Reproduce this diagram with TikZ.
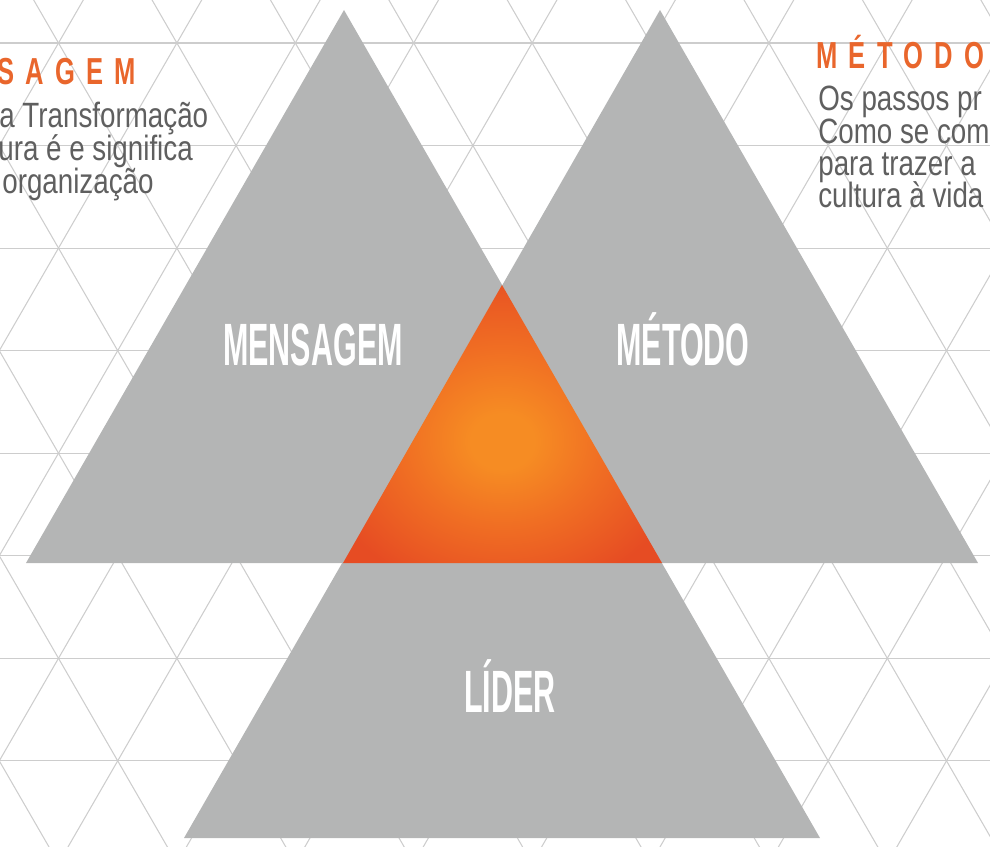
\documentclass[tikz,border=0pt]{standalone}
\usepackage{fontspec}
\usepackage{tikz}
\setmainfont{Liberation Sans}
\newfontfamily\labelfont[FakeStretch=0.51]{Liberation Sans Bold}
\newfontfamily\bodyfont[FakeStretch=0.79]{Liberation Sans}
\newfontfamily\headfont[FakeStretch=0.68,LetterSpace=30]{Liberation Sans Bold}
\definecolor{trigray}{RGB}{180,181,181}
\definecolor{gridgray}{RGB}{205,205,205}
\definecolor{headorange}{RGB}{233,102,44}
\definecolor{bodygray}{RGB}{95,95,95}
\definecolor{coreinner}{RGB}{246,140,35}
\definecolor{coremid}{RGB}{240,110,35}
\definecolor{coreouter}{RGB}{230,76,35}
\pgfdeclareradialshading{coreglow}{\pgfpoint{0bp}{-3.5bp}}{color(0bp)=(coreinner); color(5bp)=(coreinner); color(16bp)=(coremid); color(30bp)=(coreouter); color(50bp)=(coreouter)}

\begin{document}
\begin{tikzpicture}[x=0.02cm, y=-0.02cm,
  gridline/.style={draw=gridgray, line width=0.6pt},
  trifill/.style={fill=trigray},
  corefill/.style={shading=coreglow},
  biglabel/.style={text=white, font=\labelfont\fontsize{34}{34}\selectfont, anchor=base, inner sep=0pt},
  headtext/.style={text=headorange, font=\headfont\fontsize{21.4}{21.4}\selectfont, anchor=base west, inner sep=0pt},
  bodytext/.style={text=bodygray, font=\bodyfont\fontsize{20}{20}\selectfont, anchor=base west, inner sep=0pt}]
\useasboundingbox (0,0) rectangle (990,847);
\clip (0,0) rectangle (990,847);
\foreach \j in {0,...,8}
  \draw[gridline] (-10,43+102.55*\j) -- (1000,43+102.55*\j);
\foreach \k in {-10,...,14}
  {\draw[gridline] (58.5+118.4*\k-118.4,43-205.1) -- (58.5+118.4*\k+532.8,43+922.95);
   \draw[gridline] (58.5+118.4*\k+118.4,43-205.1) -- (58.5+118.4*\k-532.8,43+922.95);}

\coordinate (mA) at (344,10);
\coordinate (mL) at (26,563);
\coordinate (mR) at (662,563);
\coordinate (tA) at (660,10);
\coordinate (tL) at (343,563);
\coordinate (tR) at (978,563);
\coordinate (lA) at (502,285);
\coordinate (lL) at (184,838);
\coordinate (lR) at (820,838);
\fill[trifill] (mA) -- (mL) -- (mR) -- cycle;
\fill[trifill] (tA) -- (tL) -- (tR) -- cycle;
\fill[trifill] (lA) -- (lL) -- (lR) -- cycle;
\shade[corefill] (lA) -- (tL) -- (mR) -- cycle;

\node[biglabel] (mensagem) at (313,366) {MENSAGEM};
\node[biglabel] (metodo) at (683,366) {MÉTODO};
\node[biglabel] (lider) at (510,712) {LÍDER};

\node[headtext] (headmensagem) at (-3,85) {SAGEM};
\node[bodytext] (mensagem1) at (-1,128) {a Transformação};
\node[bodytext] (mensagem2) at (-2,161) {ura é e significa};
\node[bodytext] (mensagem3) at (2,194) {organização};

\node[headtext] (headmetodo) at (816,69) {MÉTODO};
\node[bodytext] (metodo1) at (818,111) {Os passos pr};
\node[bodytext] (metodo2) at (818,144) {Como se com};
\node[bodytext] (metodo3) at (818,176) {para trazer a};
\node[bodytext] (metodo4) at (818,208) {cultura à vida};
\end{tikzpicture}
\end{document}
